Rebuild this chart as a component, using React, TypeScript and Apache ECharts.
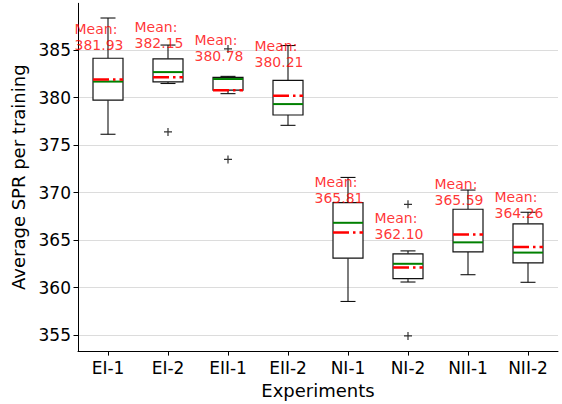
import React, { useEffect, useRef } from "react";
import * as echarts from "echarts";

const categories = ["EI-1", "EI-2", "EII-1", "EII-2", "NI-1", "NI-2", "NII-1", "NII-2"];
const lows = [376.15, 381.5, 380.43, 377.09, 358.53, 360.58, 361.35, 360.55];
const q1s = [379.74, 381.66, 380.8, 378.18, 363.09, 360.94, 363.75, 362.6];
const medians = [381.7, 382.7, 381.97, 379.33, 366.82, 362.5, 364.76, 363.68];
const q3s = [384.16, 384.1, 382.15, 381.83, 368.94, 363.55, 368.25, 366.71];
const highs = [388.4, 385.55, 382.25, 385.5, 371.6, 363.86, 370.27, 367.93];
const means = [381.93, 382.15, 380.78, 380.21, 365.81, 362.1, 365.59, 364.26];
const outlierCats = ["EI-2", "EII-1", "EII-1", "NI-2", "NI-2"];
const outlierValues = [376.4, 385.14, 373.5, 368.77, 354.9];
const yTicks = [355, 360, 365, 370, 375, 380, 385];

const FONT = "DejaVu Sans";
const PLUS =
  "path://M-0.15,-1H0.15V-0.15H1V0.15H0.15V1H-0.15V0.15H-1V-0.15H-0.15Z";

export default function App() {
  const ref = useRef<HTMLDivElement>(null);
  useEffect(() => {
    if (!ref.current) return;
    const chart = echarts.init(ref.current, null, { renderer: "svg" });
    const boxData = categories.map((c, i) => [
      i,
      lows[i],
      q1s[i],
      medians[i],
      q3s[i],
      highs[i],
      means[i],
    ]);
    const option: any = {
      animation: false,
      backgroundColor: "#fff",
      grid: { left: 78, right: 4, top: 3.3, bottom: 49 },
      xAxis: {
        type: "category",
        data: categories,
        boundaryGap: true,
        name: "Experiments",
        nameLocation: "middle",
        nameGap: 28,
        nameTextStyle: { fontFamily: FONT, fontSize: 18, color: "#000" },
        axisLine: { show: true, lineStyle: { color: "#000", width: 1 } },
        axisTick: { show: true, alignWithLabel: true, length: 4.5, lineStyle: { color: "#000" } },
        axisLabel: { fontFamily: FONT, fontSize: 17, color: "#000", margin: 8 },
        splitLine: { show: false },
      },
      yAxis: {
        type: "value",
        min: 353.3,
        max: 389.95,
        name: "Average SPR per training",
        nameLocation: "middle",
        nameGap: 39,
        nameTextStyle: { fontFamily: FONT, fontSize: 18, color: "#000" },
        axisLine: { show: true, lineStyle: { color: "#000", width: 1 } },
        axisTick: {
          show: true,
          length: 4.5,
          customValues: yTicks,
          lineStyle: { color: "#000" },
        },
        axisLabel: {
          fontFamily: FONT,
          fontSize: 17,
          color: "#000",
          margin: 7,
          customValues: yTicks,
          formatter: (v: number) => (yTicks.indexOf(v) >= 0 ? String(v) : ""),
        },
        splitLine: {
          show: true,
          lineStyle: { color: "#dcdcdc", width: 1 },
        },
      },
      series: [
        {
          type: "custom",
          data: boxData,
          encode: { x: 0, y: [1, 2, 3, 4, 5] },
          z: 2,
          renderItem: (params: any, api: any) => {
            const i = api.value(0);
            const cx = api.coord([i, api.value(1)])[0];
            const yLow = api.coord([i, api.value(1)])[1];
            const yQ1 = api.coord([i, api.value(2)])[1];
            const yMed = api.coord([i, api.value(3)])[1];
            const yQ3 = api.coord([i, api.value(4)])[1];
            const yHigh = api.coord([i, api.value(5)])[1];
            const yMean = api.coord([i, api.value(6)])[1];
            const bw = api.size([1, 0])[0] * 0.5;
            const cw = bw / 2;
            const wStyle = { stroke: "#111", lineWidth: 1.1 };
            return {
              type: "group",
              children: [
                { type: "line", shape: { x1: cx, y1: yQ1, x2: cx, y2: yLow }, style: wStyle },
                { type: "line", shape: { x1: cx, y1: yQ3, x2: cx, y2: yHigh }, style: wStyle },
                { type: "line", shape: { x1: cx - cw / 2, y1: yLow, x2: cx + cw / 2, y2: yLow }, style: wStyle },
                { type: "line", shape: { x1: cx - cw / 2, y1: yHigh, x2: cx + cw / 2, y2: yHigh }, style: wStyle },
                {
                  type: "rect",
                  shape: { x: cx - bw / 2, y: yQ3, width: bw, height: yQ1 - yQ3 },
                  style: { fill: "#fff", stroke: "#111", lineWidth: 1.2 },
                },
                {
                  type: "line",
                  shape: { x1: cx - bw / 2, y1: yMed, x2: cx + bw / 2, y2: yMed },
                  style: { stroke: "#008000", lineWidth: 2 },
                },
                {
                  type: "line",
                  shape: { x1: cx - bw / 2, y1: yMean, x2: cx + bw / 2, y2: yMean },
                  style: { stroke: "#ff0000", lineWidth: 2.5, lineDash: [16, 4, 2.5, 4] },
                },
              ],
            };
          },
        },
        {
          type: "scatter",
          data: outlierCats.map((c, k) => [categories.indexOf(c), outlierValues[k]]),
          symbol: PLUS,
          symbolSize: 8,
          itemStyle: { color: "#000" },
          z: 3,
        },
        {
          type: "scatter",
          data: means.map((m, i) => [i, m]),
          symbolSize: 0,
          itemStyle: { color: "transparent" },
          z: 5,
          label: {
            show: true,
            position: [-33.5, -58],
            align: "left",
            verticalAlign: "top",
            fontFamily: FONT,
            fontSize: 14,
            lineHeight: 16,
            color: "#ff0000",
            formatter: (p: any) => "Mean:\n" + means[p.dataIndex].toFixed(2),
          },
        },
      ],
    };
    chart.setOption(option);
    return () => chart.dispose();
  }, []);
  return (
    <div
      ref={ref}
      style={{ position: "fixed", left: 0, top: 0, width: 562, height: 404 }}
    />
  );
}
